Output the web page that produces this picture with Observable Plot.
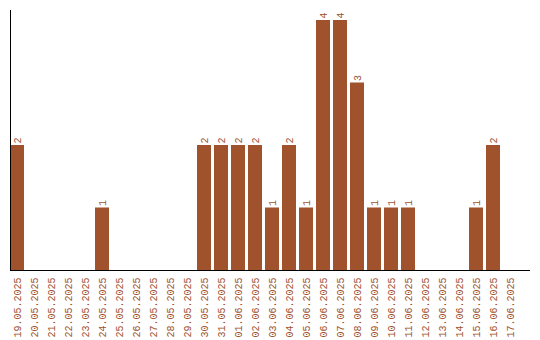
<!DOCTYPE html>
<html>
<head>
<meta charset="utf-8">
<script src="https://cdn.jsdelivr.net/npm/d3@7"></script>
<script src="https://cdn.jsdelivr.net/npm/@observablehq/plot@0.6"></script>
<style>
  body { margin: 0; background: #fff; }
  #chart svg { display: block; }
</style>
</head>
<body>
<div id="chart"></div>
<script>
const dates = ["19.05.2025","20.05.2025","21.05.2025","22.05.2025","23.05.2025","24.05.2025","25.05.2025","26.05.2025","27.05.2025","28.05.2025","29.05.2025","30.05.2025","31.05.2025","01.06.2025","02.06.2025","03.06.2025","04.06.2025","05.06.2025","06.06.2025","07.06.2025","08.06.2025","09.06.2025","10.06.2025","11.06.2025","12.06.2025","13.06.2025","14.06.2025","15.06.2025","16.06.2025","17.06.2025"];
const counts = [2,0,0,0,0,1,0,0,0,0,0,2,2,2,2,1,2,1,4,4,3,1,1,1,0,0,0,1,2,0];

const data = dates.map((d, i) => ({date: d, count: counts[i]}));
const color = "#A0522D";
const font = "Liberation Mono, monospace";

const chart = Plot.plot({
  width: 540,
  height: 340,
  marginLeft: 10,
  marginRight: 10,
  marginTop: 10,
  marginBottom: 70,
  style: {fontFamily: font, fontSize: "10px", background: "#fff"},
  x: {domain: dates, range: [10, 517], paddingInner: 3/17, paddingOuter: 0, align: 0, label: null},
  y: {domain: [0, 4.16], axis: null},
  marks: [
    Plot.barY(data, {x: "date", y: "count", fill: color}),
    Plot.text(data.filter(d => d.count > 0), {x: "date", y: "count", text: d => String(d.count), rotate: -90, textAnchor: "start", dx: 0, dy: -2, fill: color, fontFamily: font, fontSize: 10}),
    Plot.axisX({tickRotate: -90, tickSize: 0, tickPadding: 7, fill: color, fontFamily: font, fontSize: 10, label: null}),
    Plot.frame({anchor: "left", stroke: "black"}),
    Plot.ruleY([0], {stroke: "black"})
  ]
});
document.getElementById("chart").appendChild(chart);
</script>
</body>
</html>
